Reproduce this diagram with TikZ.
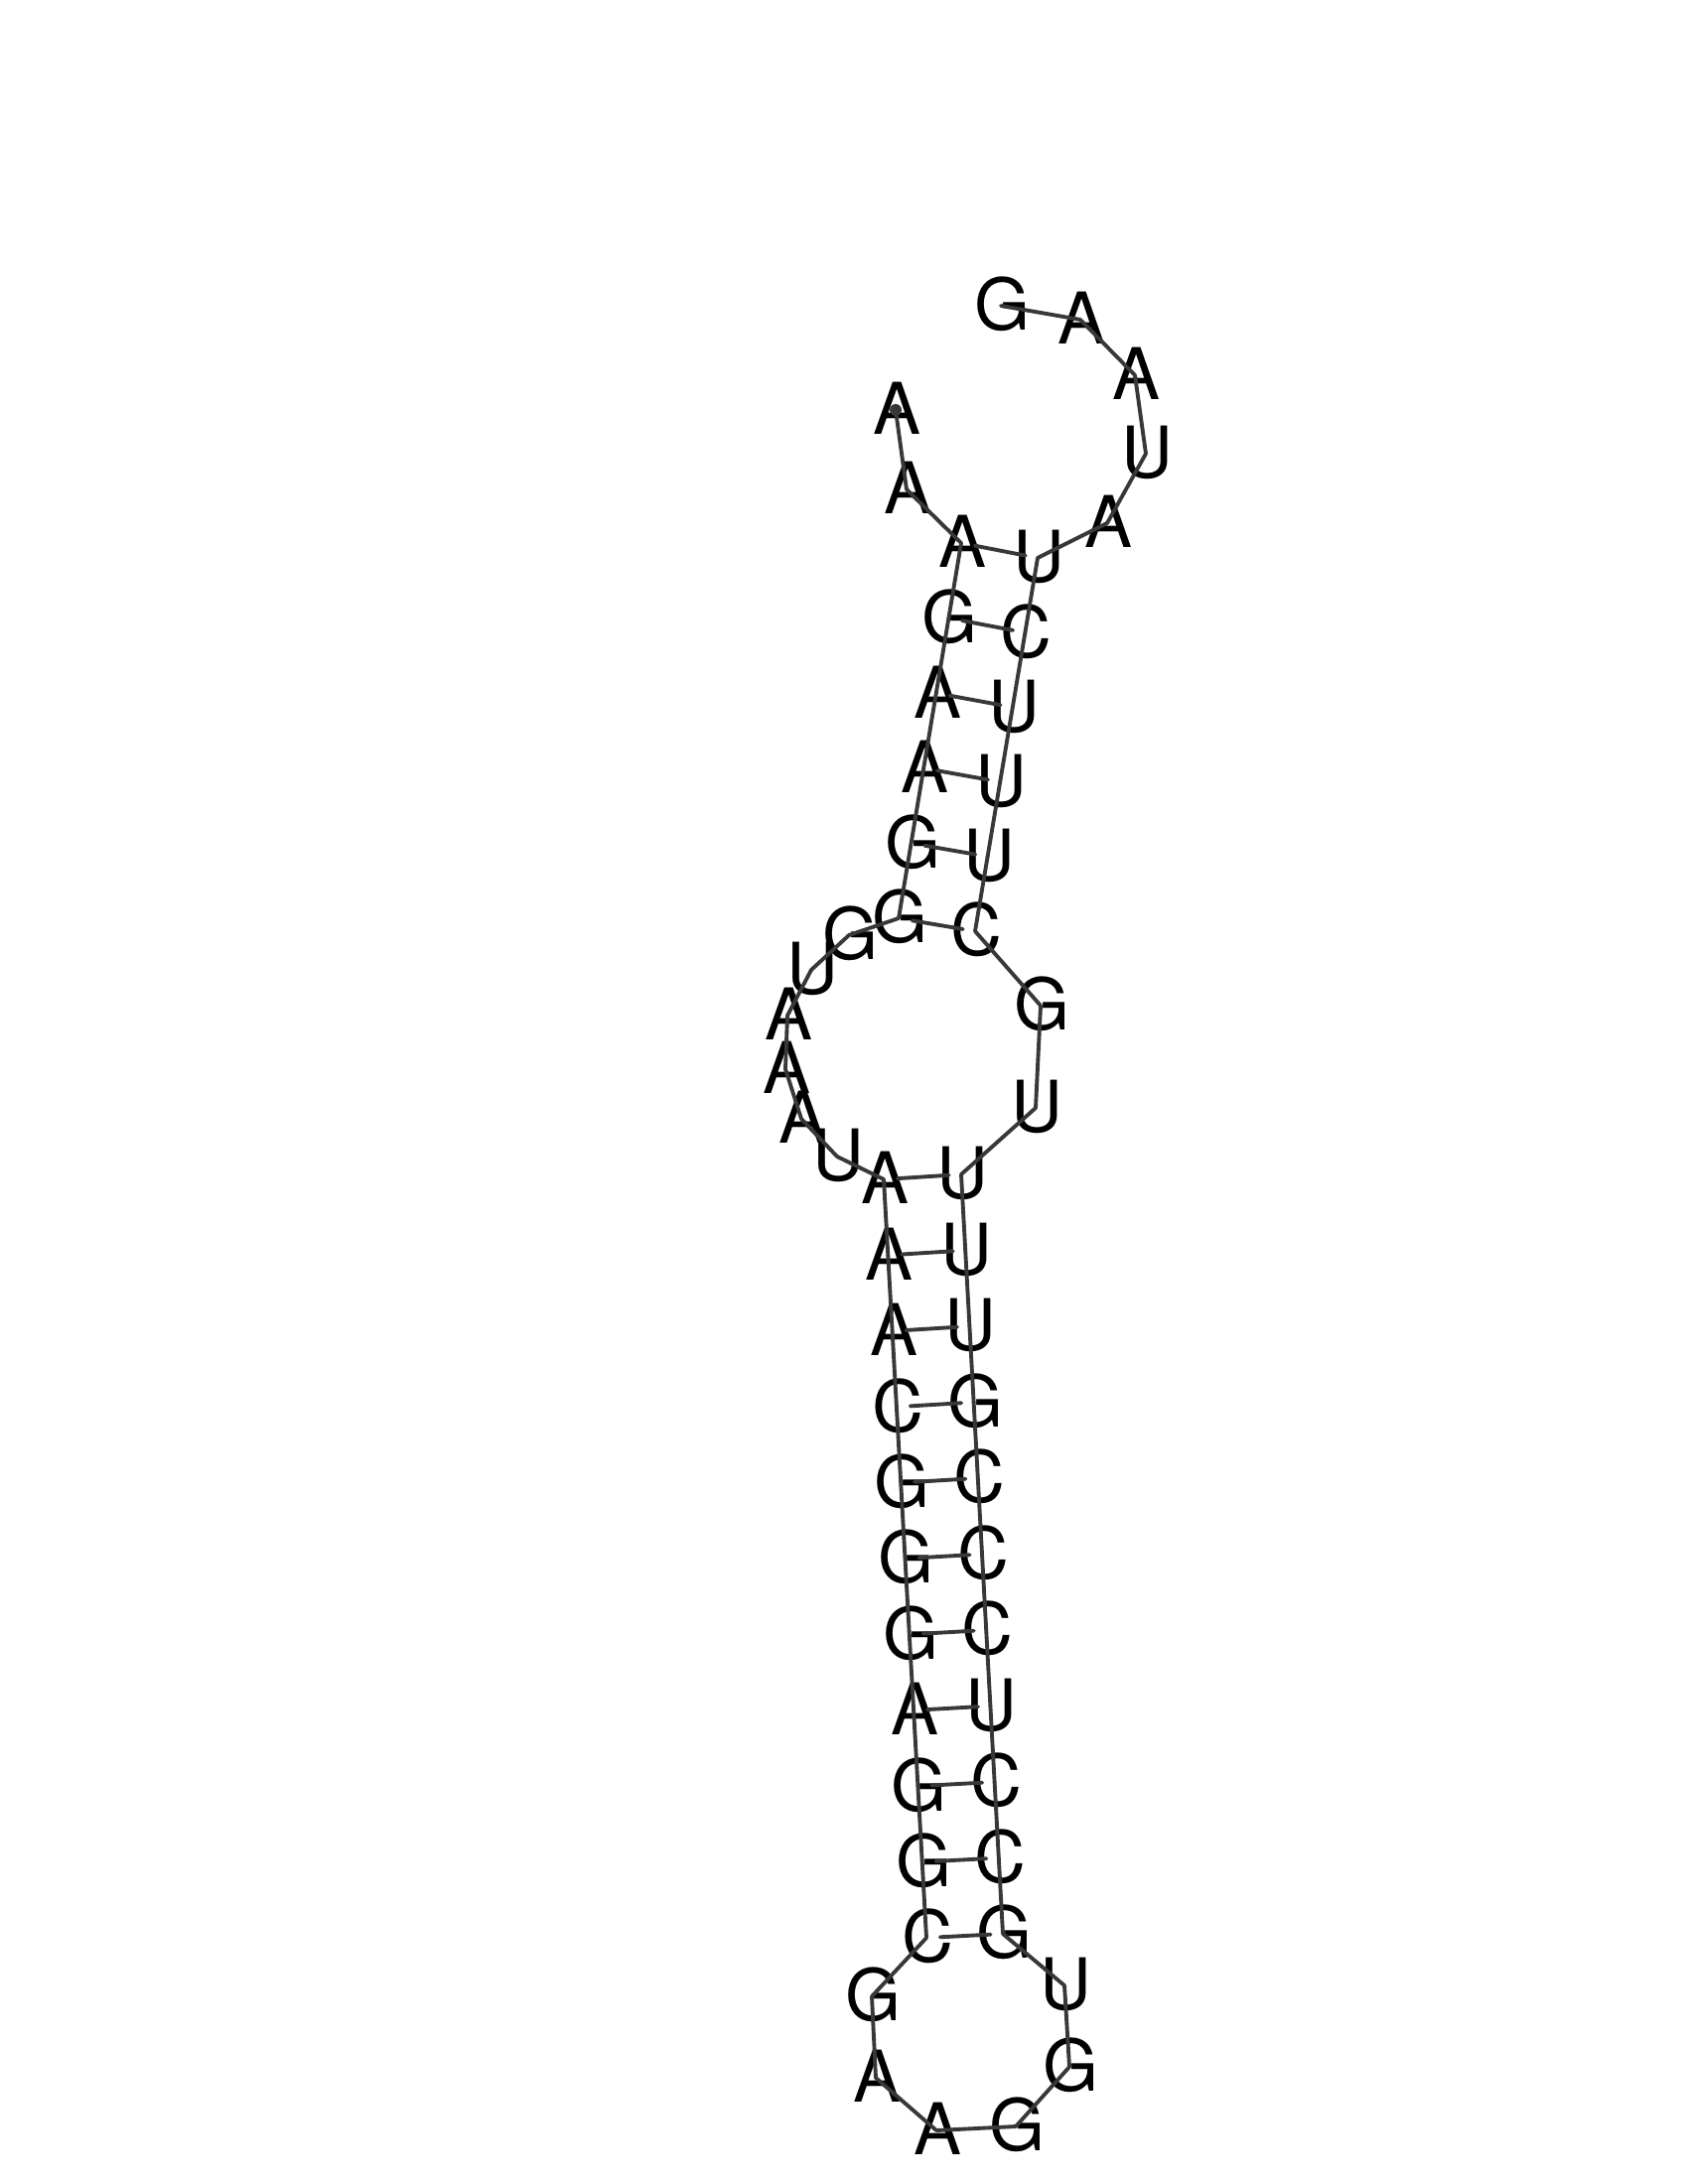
\documentclass[tikz,border=0pt]{standalone}
\usepackage{fontspec}
\setmainfont{TeX Gyre Heros}
\begin{document}
\begin{tikzpicture}[x=0.005in,y=-0.005in,
    base/.style={inner sep=0,outer sep=0,text height=18pt,text depth=0pt,font=\fontsize{26}{26}\selectfont,execute at begin node={\kern 1pt}},
    backbone/.style={draw=black!78,line width=1.4pt,line cap=round},
    pairline/.style={backbone,shorten <=5pt,shorten >=4.5pt}]
  \useasboundingbox (0,0) rectangle (1700,2200);
  % upper stem
  \foreach \i/\l/\r in {0/A/U,1/G/C,2/A/U,3/A/U,4/G/U,5/G/C}
     {\node [base] (upL\i) at (968-12.6*\i,547+75.6*\i) {\l};
      \node [base] (upR\i) at (1045-12.6*\i,562+75.2*\i) {\r};}
  % lower stem
  \foreach \i/\l/\r in {0/A/U,1/A/U,2/A/U,3/C/G,4/G/C,5/G/C,6/G/C,7/A/U,8/G/C,9/G/C,10/C/G}
     {\node [base] (lowL\i) at (890+4.3*\i,1188+76.4*\i) {\l};
      \node [base] (lowR\i) at (968+4.2*\i,1183+76.5*\i) {\r};}
  % tails and loops
  \foreach \name/\x/\y/\l in {tailA/902/413/A,tailB/913/493/A,
      inA/855/942/G,inB/817/977/U,inC/793/1023/A,inD/791/1077/A,inE/807/1127/A,inF/843/1165/U,
      hpA/878/2011/G,hpB/882/2093/A,hpC/943/2146/A,hpD/1023/2142/G,hpE/1077/2082/G,hpF/1072/2000/U,
      inG/1043/1116/U,inH/1048/1013/G,
      endA/1115/527/A,endB/1154/457/U,endC/1143/378/A,endD/1088/322/A,endE/1008/308/G}
     \node [base] (\name) at (\x,\y) {\l};

  % backbone from the tail round to the other end
  \foreach \cur [remember=\cur as \prev (initially tailA)] in {tailB,upL0,upL1,upL2,upL3,upL4,upL5,
      inA,inB,inC,inD,inE,inF,lowL0,lowL1,lowL2,lowL3,lowL4,lowL5,lowL6,lowL7,lowL8,lowL9,lowL10,
      hpA,hpB,hpC,hpD,hpE,hpF,lowR10,lowR9,lowR8,lowR7,lowR6,lowR5,lowR4,lowR3,lowR2,lowR1,lowR0,
      inG,inH,upR5,upR4,upR3,upR2,upR1,upR0,endA,endB,endC,endD,endE}
     \draw [backbone] (\prev.center) -- (\cur.center);
  \fill [black!78] (tailA.center) circle (6);

  % pairs
  \foreach \i in {0,...,5}
     \draw [pairline] (upL\i.center) -- (upR\i.center);
  \foreach \i in {0,...,10}
     \draw [pairline] (lowL\i.center) -- (lowR\i.center);
\end{tikzpicture}
\end{document}
